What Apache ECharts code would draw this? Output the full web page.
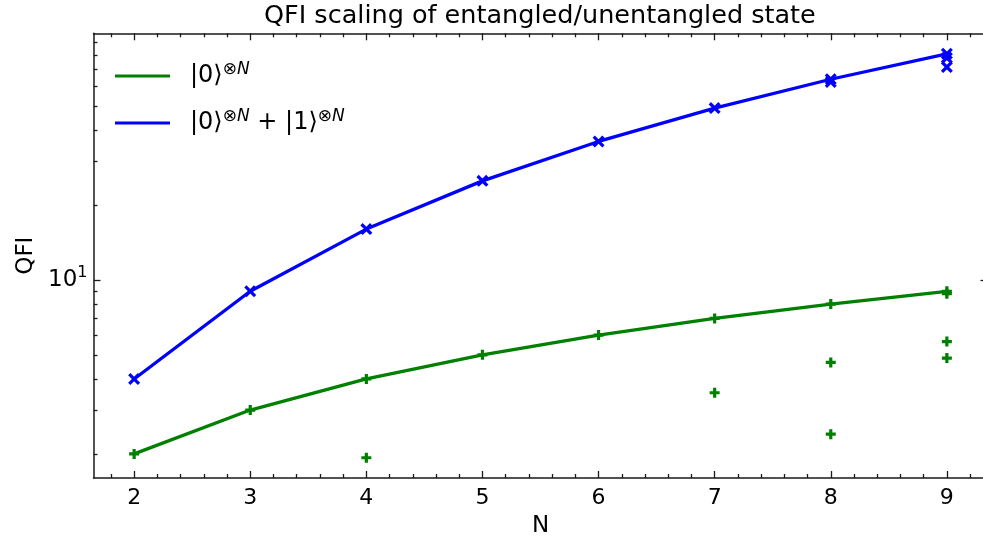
<!DOCTYPE html>
<html>
<head>
<meta charset="utf-8">
<script src="https://cdn.jsdelivr.net/npm/echarts@6/dist/echarts.min.js"></script>
<style>
  html, body { margin: 0; padding: 0; background: #ffffff; }
  #chart { width: 983px; height: 544px; }
</style>
</head>
<body>
<div id="chart"></div>
<script>
// Number of qubits
const nValues = [2, 3, 4, 5, 6, 7, 8, 9];
// Ideal QFI: product state scales as N, GHZ state as N^2
const productQFI = [2, 3, 4, 5, 6, 7, 8, 9];
const ghzQFI = [4, 9, 16, 25, 36, 49, 64, 81];
// Sampled QFI values [N, QFI]
const productSamples = [
  [2, 2], [3, 3], [4, 4], [4, 1.93], [5, 5], [6, 6], [7, 7], [7, 3.52],
  [8, 8], [8, 4.66], [8, 2.4], [9, 9], [9, 8.8], [9, 5.65], [9, 4.85]
];
const ghzSamples = [
  [2, 4], [3, 9], [4, 16], [5, 25], [6, 36], [7, 49], [8, 64], [8, 62.4],
  [9, 81], [9, 78], [9, 71.6]
];
// Tick positions
const xMajorTicks = [2, 3, 4, 5, 6, 7, 8, 9];
const xMinorTicks = [1.8, 2.2, 2.4, 2.6, 2.8, 3.2, 3.4, 3.6, 3.8, 4.2, 4.4, 4.6, 4.8,
  5.2, 5.4, 5.6, 5.8, 6.2, 6.4, 6.6, 6.8, 7.2, 7.4, 7.6, 7.8, 8.2, 8.4, 8.6, 8.8, 9.2];
const yMajorTicks = [10];
const yMinorTicks = [2, 3, 4, 5, 6, 7, 8, 9, 20, 30, 40, 50, 60, 70, 80, 90];

const FONT = 'DejaVu Sans';
const INK = '#1a1a1a';
const GREEN = '#008000';
const BLUE = '#0000ff';

const plusSymbol = 'path://M3.4,0H6.6V3.4H10V6.6H6.6V10H3.4V6.6H0V3.4H3.4Z';
const crossSymbol = 'path://M0,1.9L1.9,0L5,3.1L8.1,0L10,1.9L6.9,5L10,8.1L8.1,10L5,6.9L1.9,10L0,8.1L3.1,5Z';

const legendLabels = {
  product: '{g| }{m|\u007C0\u27E9}{s|\u2297}{si|N}',
  ghz: '{g| }{m|\u007C0\u27E9}{s|\u2297}{si|N}{m| + \u007C1\u27E9}{s|\u2297}{si|N}'
};

// Plot area; the right spine sits just past the canvas edge
const gridRect = { left: 93.5, width: 894, top: 33.3, height: 444.7, outerBoundsMode: 'none' };
const xRange = { min: 1.65, max: 9.35 };
const yRange = { min: 1.6, max: 97.9 };

function xAxisDef(gridIndex, position, ticks, len, withLabels, withLine) {
  return {
    type: 'value', gridIndex, position,
    min: xRange.min, max: xRange.max,
    axisLine: { show: withLine, onZero: false, lineStyle: { color: INK, width: 1.5 } },
    axisTick: { show: true, inside: true, length: len, customValues: ticks,
      lineStyle: { color: INK, width: 1.3 } },
    axisLabel: withLabels ? {
      show: true, customValues: xMajorTicks, margin: 9,
      color: '#000', fontSize: 22, fontFamily: FONT
    } : { show: false },
    splitLine: { show: false },
    name: withLabels ? 'N' : '',
    nameLocation: 'middle', nameGap: 37,
    nameTextStyle: { color: '#000', fontSize: 23, fontFamily: FONT }
  };
}

function yAxisDef(gridIndex, position, ticks, len, withLabels, withLine) {
  return {
    type: 'log', logBase: 10, gridIndex, position,
    min: yRange.min, max: yRange.max,
    axisLine: { show: withLine, onZero: false, lineStyle: { color: INK, width: 1.5 } },
    axisTick: { show: true, inside: true, length: len, customValues: ticks,
      lineStyle: { color: INK, width: 1.3 } },
    axisLabel: withLabels ? {
      show: true, customValues: yMajorTicks, margin: 6,
      formatter: function (v) { return '{b|10}{s|' + Math.round(Math.log10(v)) + '}'; },
      rich: {
        b: { fontSize: 23, fontFamily: FONT, color: '#000', lineHeight: 30 },
        s: { fontSize: 16, fontFamily: FONT, color: '#000', verticalAlign: 'top', lineHeight: 16 }
      }
    } : { show: false },
    splitLine: { show: false },
    name: withLabels ? 'QFI' : '',
    nameLocation: 'middle', nameGap: 56, nameRotate: 90,
    nameTextStyle: { color: '#000', fontSize: 23, fontFamily: FONT }
  };
}

const chart = echarts.init(document.getElementById('chart'), null, { renderer: 'canvas' });

chart.setOption({
  backgroundColor: '#ffffff',
  animation: false,
  textStyle: { fontFamily: FONT },
  title: {
    text: 'QFI scaling of entangled/unentangled state',
    left: 264, top: 3, padding: 0,
    textStyle: { fontSize: 25.5, fontWeight: 'normal', color: '#000', fontFamily: FONT }
  },
  legend: {
    data: ['product', 'ghz'],
    orient: 'vertical',
    left: 110, top: 56,
    icon: 'rect',
    itemWidth: 55, itemHeight: 3, itemGap: 20,
    formatter: function (name) { return legendLabels[name]; },
    textStyle: {
      color: '#000',
      rich: {
        g: { width: 15, fontSize: 24, lineHeight: 30 },
        m: { fontSize: 24, fontFamily: FONT, color: '#000', lineHeight: 30 },
        s: { fontSize: 17, fontFamily: FONT, color: '#000', verticalAlign: 'top', lineHeight: 17 },
        si: { fontSize: 17, fontFamily: FONT, fontStyle: 'italic', color: '#000', verticalAlign: 'top', lineHeight: 17 }
      }
    }
  },
  grid: [
    Object.assign({}, gridRect),
    Object.assign({}, gridRect)
  ],
  xAxis: [
    xAxisDef(0, 'bottom', xMajorTicks, 7, true, true),
    xAxisDef(0, 'top', xMajorTicks, 7, false, true),
    xAxisDef(1, 'bottom', xMinorTicks, 4, false, false),
    xAxisDef(1, 'top', xMinorTicks, 4, false, false)
  ],
  yAxis: [
    yAxisDef(0, 'left', yMajorTicks, 7, true, true),
    yAxisDef(0, 'right', yMajorTicks, 7, false, true),
    yAxisDef(1, 'left', yMinorTicks, 4, false, false),
    yAxisDef(1, 'right', yMinorTicks, 4, false, false)
  ],
  series: [
    {
      name: 'product', type: 'line', xAxisIndex: 0, yAxisIndex: 0,
      data: nValues.map((n, i) => [n, productQFI[i]]),
      symbol: 'none', color: GREEN,
      lineStyle: { color: GREEN, width: 3.3 }, z: 2
    },
    {
      name: 'ghz', type: 'line', xAxisIndex: 0, yAxisIndex: 0,
      data: nValues.map((n, i) => [n, ghzQFI[i]]),
      symbol: 'none', color: BLUE,
      lineStyle: { color: BLUE, width: 3.3 }, z: 2
    },
    {
      name: 'product samples', type: 'scatter', xAxisIndex: 0, yAxisIndex: 0,
      data: productSamples, symbol: plusSymbol, symbolSize: 10,
      itemStyle: { color: GREEN, opacity: 1 }, z: 3
    },
    {
      name: 'ghz samples', type: 'scatter', xAxisIndex: 0, yAxisIndex: 0,
      data: ghzSamples, symbol: crossSymbol, symbolSize: 12,
      itemStyle: { color: BLUE, opacity: 1 }, z: 3
    }
  ]
});
</script>
</body>
</html>
